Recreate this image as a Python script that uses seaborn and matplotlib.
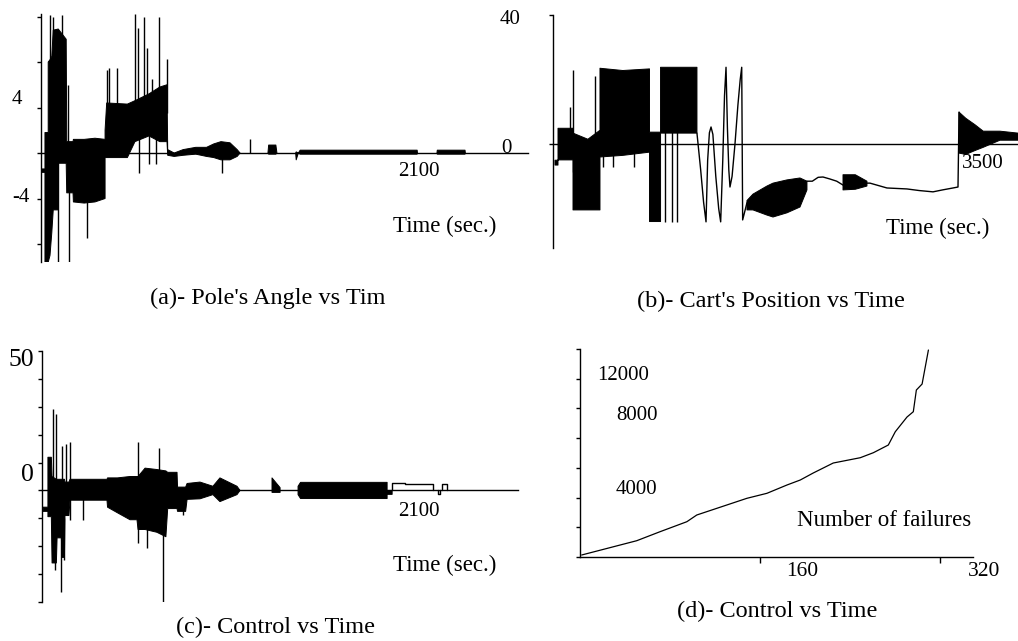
import numpy as np
import seaborn as sns
import matplotlib.pyplot as plt

sns.set_theme(style='white')
plt.rcParams['font.family'] = ['Liberation Serif', 'DejaVu Serif']

W, H = 1018, 641
nan = np.nan

# (a) pole's angle: outline of the dense trace, time (s) with low / high value
a_t = [5, 22, 22, 40, 40, 50, 60, 68, 96, 96,
       140, 143, 178, 180, 240, 300, 356, 356, 365, 480,
       522, 600, 660, 700, 704, 740, 790, 860, 920, 960,
       1000, 1050, 1090, 1106, 1180, 1261, 1265, 1305, 1311, 1360,
       1415, 1418, 1430, 1440, 2090, 2092, 2150, 2200, 2202, 2356, 2358]
a_lo = [-1.7, -1.7, -9.6, -9.6, -9.6, -9.0, -7.0, -5.0, -5.0, -0.9,
        -0.9, -3.5, -3.5, -4.3, -4.4, -4.3, -4.0, -0.4, -0.4, -0.4,
        1.0, 1.5, 1.0, 1.0, -0.2, -0.3, -0.2, -0.1, -0.3, -0.4,
        -0.6, -0.6, -0.3, 0, nan, 0, -0.1, -0.1, 0, nan,
        0, -0.6, 0, -0.1, -0.1, 0, nan, 0, -0.1, -0.1, 0]
a_hi = [-1.4, -1.4, 1.8, 1.8, 8.0, 8.2, 8.5, 10.8, 10.9, 10.9,
        10.0, 1.0, 1.0, 1.2, 1.2, 1.3, 1.2, 2.0, 4.4, 4.3,
        4.6, 5.2, 5.8, 6.0, 0.3, 0.0, 0.3, 0.5, 0.5, 0.8,
        1.0, 0.9, 0.3, 0, nan, 0, 0.7, 0.7, 0, nan,
        0, 0.1, 0, 0.25, 0.25, 0, nan, 0, 0.25, 0.25, 0]
a_spike_t = [32, 50, 65, 96, 115, 150, 155, 256, 368, 378, 420, 522,
             540, 572, 587, 615, 657, 700, 545, 600, 640, 1005, 1161]
a_spike_v = [-9.6, 12.1, 12.0, -9.6, 12.1, 6.0, -9.6, -7.5, 7.3, 7.5, 7.5, 12.2,
             11.0, 12.0, 9.2, 6.5, 12.0, 8.3, -1.8, -1.0, -1.0, -1.8, 1.2]

# (b) cart's position
b_t = [17, 43, 43, 172, 172, 300, 404, 404, 600, 830,
       830, 925, 925, 1238, 1400, 1668, 1720, 1840, 1892, 2012,
       2124, 2184, 2300, 2494, 2600, 2700, 3000, 3492, 3550, 3629,
       3700, 3844, 3999]
b_lo = [-6.5, -6.5, -4.9, -4.9, -20.4, -20.4, -20.4, -4.0, -3.5, -2.5,
        -24.0, -24.0, 3.4, 3.4, nan, -20.4, -20.4, -22.0, -22.6, -21.3,
        -19.5, -14.2, nan, -14.2, -14.0, -13.0, nan, -2.8, -3.2, -2.0,
        -1.0, 1.2, 1.2]
b_hi = [-5.0, -5.0, 4.9, 4.9, 3.4, 1.5, 4.3, 23.5, 22.8, 23.3,
        3.7, 3.7, 23.8, 23.8, nan, -17.5, -15.5, -13.0, -12.1, -11.1,
        -10.5, -11.5, nan, -9.5, -9.5, -11.5, nan, 9.9, 8.0, 6.0,
        4.0, 4.0, 3.4]
b_line_t = [1238, 1270, 1295, 1316, 1330, 1345, 1359, 1375, 1400, 1425, 1442, 1460,
            1475, 1488, 1500, 1512, 1522, 1540, 1565, 1590, 1610, 1623, 1631, 1668,
            nan, 2184, 2230, 2280, 2322, 2380, 2440, 2494,
            nan, 2700, 2726, 2872, 3044, 3150, 3268, 3350, 3440, 3483, 3492]
b_line_v = [3.4, -8.0, -18.0, -24.1, -5.0, 3.5, 5.3, 3.0, -10.0, -20.0, -24.1, -5.0,
            15.0, 23.8, 5.0, -8.0, -13.3, -10.0, 0.0, 12.0, 20.0, 23.8, -23.5, -18.2,
            nan, -11.5, -11.5, -10.3, -10.2, -10.8, -11.5, -12.7,
            nan, -12.1, -12.1, -13.6, -13.9, -14.4, -14.8, -14.2, -13.6, -13.3, 9.9]
b_spike_t = [146, 172, 361, 430, 520, 700, 963, 1021, 1064]
b_spike_v = [11.4, 22.9, 21.0, -7.1, -7.1, -7.1, -24.1, -24.1, -24.1]

# (c) control
c_t = [6, 33, 33, 52, 56, 80, 84, 108, 111, 125,
       128, 150, 156, 362, 365, 420, 490, 529, 535, 574,
       640, 690, 700, 752, 755, 800, 808, 880, 952, 991,
       1086, 1103, 1200, 1281, 1326, 1380, 1426, 1440, 1922, 1922, 1950]
c_lo = [-7.5, -7.5, -9.4, -9.4, -26, -26, -17, -17, -24, -24,
        -9, -9, -3.5, -3.5, -6, -8, -10.5, -10.5, -14, -14,
        -15, -16.6, -6.5, -6.5, -7.5, -7.5, -3.2, -3, -1.5, -4,
        -1.5, 0, nan, -0.7, -0.7, nan, -1.5, -2.9, -2.9, -1.4, -1.4]
c_hi = [-6.0, -6.0, 11.9, 11.9, 5, 4, 4, 4, 4, 4,
        3, 3, 4.0, 4.0, 4.5, 4.5, 5, 5, 5, 8.0,
        7.5, 7.0, 6.5, 6.5, 1.2, 1.2, 2.5, 3, 1.5, 4.5,
        1.5, 0, nan, 4.5, 1.0, nan, 1.5, 2.9, 2.9, 0, 0]
c_line_t = [1950, 1950, 2022, 2022, 2178, 2178, nan, 2206, 2206, 2215, 2215, nan,
            2228, 2228, 2256, 2256]
c_line_v = [0, 2.7, 2.7, 2.2, 2.2, 0, nan, 0, -1.4, -1.4, 0, nan,
            0, 2.2, 2.2, 0]
c_spike_t = [60, 78, 72, 104, 113, 134, 156, 124, 156, 227, 537, 537, 587, 654, 672, 786]
c_spike_v = [29.2, 27.4, -28.5, -36.5, 15.9, 16.6, 17.3, -25, -10.5, -10.5,
             17.3, -18.8, -20.6, 15.2, -40, -8.7]

# (d) time vs number of failures
d_fail = [1.5, 50.4, 71.1, 94.9, 103.7, 148.2, 166.0, 183.8, 195.6, 207.1,
          224.9, 248.9, 260.5, 273.8, 280.0, 290.4, 296.0, 298.7, 303.8, 309.4]
d_time = [135, 1097, 1703, 2376, 2827, 3950, 4287, 4846, 5182, 5653,
          6326, 6683, 7019, 7538, 8433, 9422, 9779, 11239, 11643, 13931]

fig = plt.figure(figsize=(W / 100, H / 100), dpi=100)


def box(l, t, r, b):
    return fig.add_axes([l / W, 1 - b / H, (r - l) / W, (b - t) / H])


def style(ax, yticks):
    for s in ['top', 'right']:
        ax.spines[s].set_visible(False)
    for s in ['left', 'bottom']:
        ax.spines[s].set_color('black')
        ax.spines[s].set_linewidth(1.0)
    ax.spines['bottom'].set_position(('data', 0))
    ax.set_yticks(yticks)
    ax.set_xticks([])
    ax.tick_params(axis='y', left=True, direction='out', length=3, width=1,
                   color='black', labelleft=False)
    ax.set_facecolor('none')


def trace(ax, t, lo, hi, st, sv, lt=None, lv=None):
    t = np.asarray(t, float)
    lo = np.asarray(lo, float)
    hi = np.asarray(hi, float)
    ax.fill_between(t, lo, hi, facecolor='black', edgecolor='black', lw=0.7)
    mid = np.nan_to_num((lo + hi) / 2)
    base = np.interp(st, t, mid)
    ax.vlines(st, base, sv, color='black', lw=1.0)
    if lt is not None:
        ax.plot(lt, lv, color='black', lw=1.0)


def label(x, y, s, size):
    fig.text(x / W, 1 - y / H, s, ha='center', va='center', fontsize=size,
             color='black')


# (a)
ax = box(41, 14, 528, 262)
trace(ax, a_t, a_lo, a_hi, a_spike_t, a_spike_v)
ax.set_xlim(0, 2706)
ax.set_ylim(-9.58, 12.22)
style(ax, [-8, -4, 0, 4, 8, 12])

# (b)
ax = box(553, 15, 1018, 248)
trace(ax, b_t, b_lo, b_hi, b_spike_t, b_spike_v, b_line_t, b_line_v)
ax.set_xlim(0, 3999)
ax.set_ylim(-32.2, 40)
style(ax, [0, 40])

# (c)
ax = box(42, 351, 518, 602)
trace(ax, c_t, c_lo, c_hi, c_spike_t, c_spike_v, c_line_t, c_line_v)
ax.set_xlim(0, 2651)
ax.set_ylim(-40, 50)
style(ax, list(range(-40, 51, 10)))

# (d)
ax = box(580, 349, 973, 557)
sns.lineplot(x=d_fail, y=d_time, ax=ax, color='black', lw=0.9)
ax.set_xlim(0, 349)
ax.set_ylim(0, 14000)
style(ax, list(range(0, 14001, 2000)))
ax.set_xticks([160, 320])
ax.tick_params(axis='x', bottom=True, direction='out', length=4, width=1,
               color='black', labelbottom=False)

# texts
label(17, 100, '4', 15)
label(21, 197, '-4', 15)
label(419, 172, '2100', 15)
label(445, 226, 'Time (sec.)', 16.5)
label(268, 298, "(a)- Pole's Angle vs Tim", 17.5)

label(510, 19, '40', 15)
label(506, 149, '0', 15)
label(983, 163, '3500', 15)
label(938, 228, 'Time (sec.)', 16.5)
label(771, 301, "(b)- Cart's Position vs Time", 17.5)

label(21, 360, '50', 18.5)
label(27, 475, '0', 18.5)
label(419, 512, '2100', 15)
label(445, 565, 'Time (sec.)', 16.5)
label(275, 627, '(c)- Control vs Time', 17.5)

label(623, 375, '12000', 15)
label(637, 415, '8000', 15)
label(636, 490, '4000', 15)
label(884, 520, 'Number of failures', 16.5)
label(802, 572, '160', 15.5)
label(984, 572, '320', 15.5)
label(777, 611, '(d)- Control vs Time', 17.5)

fig.savefig('out.png', dpi=100, facecolor='white')
